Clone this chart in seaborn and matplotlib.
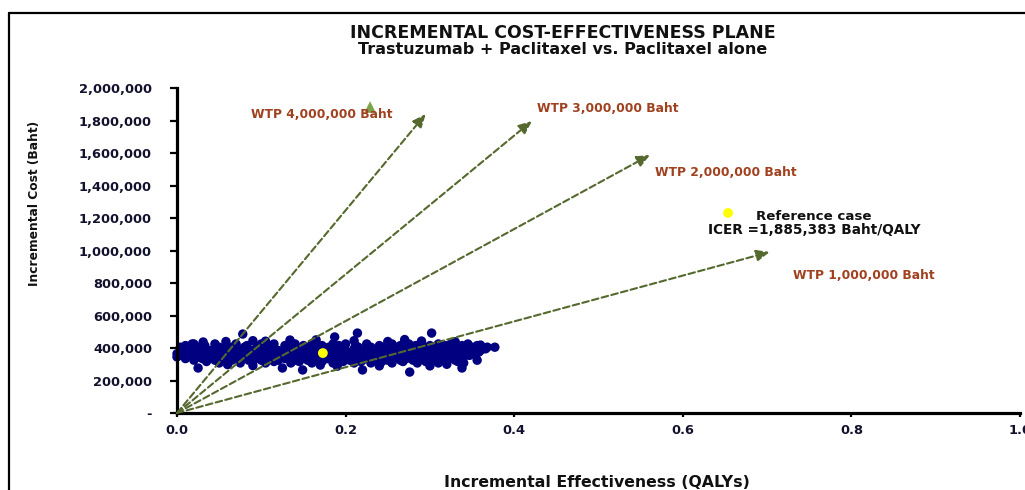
import matplotlib
matplotlib.use("Agg")
import matplotlib.pyplot as plt
import seaborn as sns
import pandas as pd
from matplotlib.ticker import FuncFormatter, MultipleLocator
from matplotlib.lines import Line2D

# ---- Monte Carlo cloud: incremental QALYs vs incremental cost (thousand Baht) ----
# dense core, one row per cost level
band_cost_k = [425, 415, 405, 395, 385, 375, 365, 355, 345, 335, 325, 317, 308]
band_qaly = [
    [0.02, 0.045, 0.07, 0.10, 0.115, 0.14, 0.16, 0.185, 0.20, 0.225, 0.255, 0.275, 0.29, 0.31, 0.325, 0.345],
    [0.01, 0.033, 0.058, 0.083, 0.107, 0.128, 0.15, 0.172, 0.192, 0.212, 0.24, 0.265, 0.283, 0.30,
     0.318, 0.338, 0.356],
    [0.004, 0.025, 0.05, 0.065, 0.08, 0.095, 0.11, 0.13, 0.15, 0.165, 0.18, 0.195, 0.215, 0.23, 0.245,
     0.26, 0.275, 0.29, 0.305, 0.32, 0.335, 0.35, 0.368, 0.377],
    [0.012, 0.03, 0.047, 0.062, 0.078, 0.10, 0.115, 0.128, 0.143, 0.16, 0.178, 0.193, 0.21, 0.228,
     0.242, 0.258, 0.272, 0.287, 0.308, 0.323, 0.338, 0.352, 0.366],
    [0.005, 0.02, 0.04, 0.055, 0.07, 0.09, 0.105, 0.12, 0.135, 0.15, 0.17, 0.185, 0.2, 0.22, 0.235,
     0.25, 0.265, 0.28, 0.30, 0.315, 0.33, 0.345, 0.36],
    [0.008, 0.025, 0.037, 0.05, 0.067, 0.083, 0.10, 0.117, 0.132, 0.147, 0.167, 0.183, 0.197, 0.213,
     0.23, 0.248, 0.262, 0.277, 0.297, 0.312, 0.327, 0.342, 0.358],
    [0.0, 0.015, 0.03, 0.045, 0.06, 0.075, 0.095, 0.11, 0.125, 0.14, 0.16, 0.175, 0.19, 0.205, 0.225,
     0.24, 0.255, 0.27, 0.29, 0.305, 0.32, 0.335, 0.353],
    [0.006, 0.02, 0.035, 0.05, 0.065, 0.08, 0.092, 0.107, 0.122, 0.137, 0.153, 0.17, 0.185, 0.20,
     0.217, 0.235, 0.25, 0.265, 0.283, 0.30, 0.317, 0.33, 0.347],
    [0.0, 0.01, 0.025, 0.04, 0.055, 0.07, 0.085, 0.10, 0.115, 0.13, 0.145, 0.165, 0.18, 0.195, 0.21,
     0.23, 0.245, 0.26, 0.275, 0.295, 0.31, 0.325, 0.34],
    [0.01, 0.03, 0.05, 0.075, 0.093, 0.11, 0.128, 0.148, 0.163, 0.178, 0.198, 0.213, 0.228, 0.242,
     0.258, 0.272, 0.29, 0.308, 0.322, 0.338],
    [0.02, 0.045, 0.065, 0.085, 0.10, 0.12, 0.14, 0.155, 0.17, 0.19, 0.205, 0.22, 0.235, 0.25, 0.265,
     0.28, 0.30, 0.315, 0.33, 0.356],
    [0.035, 0.06, 0.09, 0.115, 0.145, 0.172, 0.197, 0.218, 0.243, 0.268, 0.295, 0.32, 0.333],
    [0.05, 0.075, 0.105, 0.135, 0.16, 0.185, 0.21, 0.23, 0.255, 0.285, 0.31, 0.34],
]
# scattered simulations on the upper and lower edges of the cloud
edge_qaly = [0.078, 0.187, 0.214, 0.302, 0.134, 0.031, 0.018, 0.058, 0.09, 0.165, 0.25, 0.27,
             0.33, 0.36, 0.105, 0.21, 0.29,
             0.025, 0.125, 0.149, 0.22, 0.276, 0.338, 0.09, 0.19, 0.24, 0.30, 0.06, 0.17, 0.32]
edge_cost_k = [486, 468, 492, 492, 449, 437, 425, 440, 445, 450, 440, 452,
               438, 418, 442, 445, 443,
               277, 277, 265, 265, 252, 277, 292, 288, 290, 290, 298, 295, 300]

# ---- base case ----
ref_qaly = 0.173
ref_cost = 369_000
ref_icer = 1_885_383

# ---- willingness-to-pay rays ----
wtp_labels = ["WTP 4,000,000 Baht", "WTP 3,000,000 Baht", "WTP 2,000,000 Baht", "WTP 1,000,000 Baht"]
wtp_end_qaly = [0.295, 0.421, 0.561, 0.703]
wtp_end_cost = [1_840_000, 1_797_000, 1_588_000, 991_000]
wtp_label_qaly = [0.088, 0.427, 0.567, 0.731]
wtp_label_cost = [1_834_000, 1_871_000, 1_477_000, 849_000]

threshold_marker_qaly = 0.229
threshold_marker_cost = 1_883_000

key_marker_qaly = 0.6536
key_marker_cost = 1_231_000
key_text_qaly = 0.7556
key_text_cost = [1_212_000, 1_126_000]

x_ticks = [0.0, 0.2, 0.4, 0.6, 0.8, 1.0]

# ---- assemble table ----
rows_q, rows_c = [], []
for c, qs in zip(band_cost_k, band_qaly):
    rows_q.extend(qs)
    rows_c.extend([c * 1000] * len(qs))
rows_q.extend(edge_qaly)
rows_c.extend([c * 1000 for c in edge_cost_k])
sims = pd.DataFrame({"qaly": rows_q, "cost": rows_c})

sns.set_style("ticks")
plt.rcParams["font.family"] = ["DejaVu Sans"]
plt.rcParams["font.weight"] = "bold"

fig = plt.figure(figsize=(10.25, 4.9), dpi=100)
ax = fig.add_axes([0.1727, 0.1571, 0.8225, 0.6633])

sns.scatterplot(data=sims, x="qaly", y="cost", ax=ax, color="#000080", s=46,
                edgecolor="none", linewidth=0, clip_on=False, zorder=2, legend=False)

ray_color = "#55692f"
for xe, ye in zip(wtp_end_qaly, wtp_end_cost):
    ax.annotate("", xy=(xe, ye), xytext=(0, 0),
                arrowprops=dict(arrowstyle="-|>,head_length=0.65,head_width=0.28",
                                color=ray_color, lw=1.5, linestyle=(0, (3.2, 1.6)),
                                shrinkA=0, shrinkB=0, mutation_scale=12),
                zorder=3)

for lab, xl, yl in zip(wtp_labels, wtp_label_qaly, wtp_label_cost):
    ax.text(xl, yl, lab, ha="left", va="center", fontsize=8.8, fontweight="bold",
            color="#a0401e", zorder=4)

ax.scatter([ref_qaly], [ref_cost], s=50, color="#ffff00", edgecolor="none", zorder=5)
ax.scatter([threshold_marker_qaly], [threshold_marker_cost], s=70, marker="^",
           color="#7ea24a", edgecolor="none", zorder=3)

ax.scatter([key_marker_qaly], [key_marker_cost], s=50, color="#ffff00", edgecolor="none",
           zorder=5, clip_on=False)
ax.text(key_text_qaly, key_text_cost[0], "Reference case", ha="center", va="center",
        fontsize=9.6, fontweight="bold", color="#111111")
ax.text(key_text_qaly, key_text_cost[1], f"ICER ={ref_icer:,} Baht/QALY", ha="center",
        va="center", fontsize=9.8, fontweight="bold", color="#111111")

ax.set_xlim(0, 1.0)
ax.set_ylim(0, 2_000_000)
ax.set_xticks(x_ticks)
ax.xaxis.set_major_formatter(FuncFormatter(lambda v, p: f"{v:.1f}"))
ax.yaxis.set_major_locator(MultipleLocator(200_000))
ax.yaxis.set_major_formatter(FuncFormatter(lambda v, p: "-" if v == 0 else f"{v:,.0f}"))
ax.set_xlabel("")
ax.set_ylabel("")

for side in ("top", "right"):
    ax.spines[side].set_visible(False)
for side in ("left", "bottom"):
    ax.spines[side].set_linewidth(2.3)
    ax.spines[side].set_color("black")

ax.tick_params(axis="y", direction="out", length=5, width=1.6, pad=13,
               labelsize=9.4, labelcolor="#12122e", color="black")
ax.tick_params(axis="x", direction="out", length=3, width=1.6, pad=5,
               labelsize=9.4, labelcolor="#12122e", color="black")
for lab in ax.get_xticklabels() + ax.get_yticklabels():
    lab.set_fontweight("bold")

fig.text(563 / 1025, 1 - 33 / 490, "INCREMENTAL COST-EFFECTIVENESS PLANE", ha="center",
         va="center", fontsize=12.5, fontweight="bold", color="#111111")
fig.text(563 / 1025, 1 - 50 / 490, "Trastuzumab + Paclitaxel vs. Paclitaxel alone", ha="center",
         va="center", fontsize=11.5, fontweight="bold", color="#111111")
fig.text(597 / 1025, 1 - 482 / 490, "Incremental Effectiveness (QALYs)", ha="center",
         va="center", fontsize=11.3, fontweight="bold", color="#111111")
fig.text(35 / 1025, 1 - 203 / 490, "Incremental Cost (Baht)", ha="center", va="center",
         rotation=90, fontsize=8.8, fontweight="bold", color="#111111")

# outer frame of the chart area
fig.add_artist(Line2D([9 / 1025, 9 / 1025], [0, 1 - 13 / 490], color="black", lw=1.6))
fig.add_artist(Line2D([9 / 1025, 1], [1 - 13 / 490, 1 - 13 / 490], color="black", lw=1.6))

fig.savefig("out.png", dpi=100)
